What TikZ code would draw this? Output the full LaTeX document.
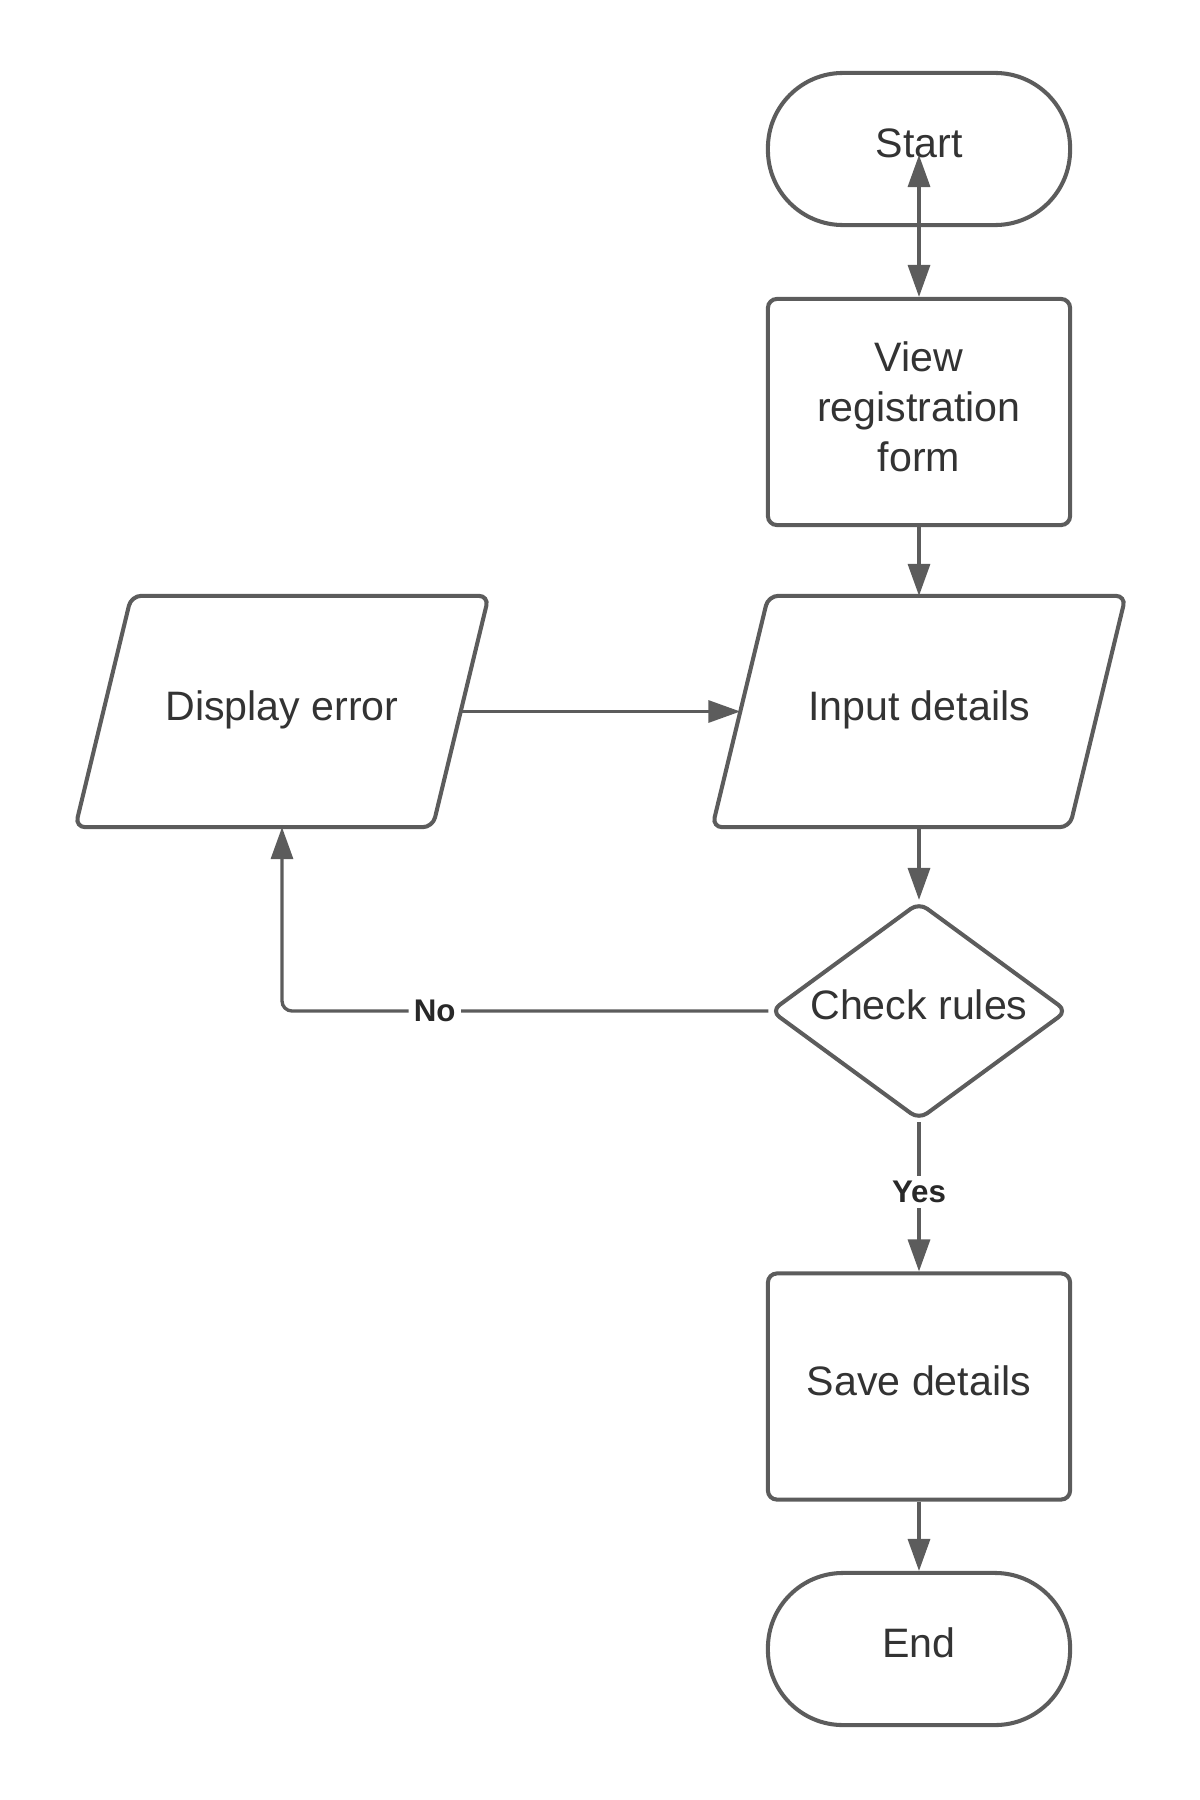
\documentclass[tikz,border=0pt]{standalone}
\usepackage{fontspec}
\setmainfont{Liberation Sans}
\usetikzlibrary{shapes.geometric,arrows.meta}
\definecolor{linegray}{RGB}{92,92,92}
\definecolor{textgray}{RGB}{51,51,51}
\definecolor{labelgray}{RGB}{40,40,40}
\begin{document}
\begin{tikzpicture}[x=0.01cm,y=-0.01cm,
  >={Triangle[length=0.32cm,width=0.22cm]},
  txt/.style={text=textgray, font=\fontsize{11.7pt}{14.2pt}\selectfont, align=center, inner sep=0pt},
  oneline/.style={text height=0.29cm, text depth=0.12cm},
  base/.style={txt, draw=linegray, line width=1.15pt},
  term/.style={base, oneline, rectangle, rounded corners=0.75cm, minimum width=3.02cm, minimum height=1.52cm},
  proc/.style={base, rectangle, rounded corners=0.09cm, minimum width=3.02cm, minimum height=2.26cm},
  iobox/.style={txt, oneline, rectangle, outer sep=0.6pt, minimum width=3.53cm, minimum height=2.27cm},
  ioline/.style={draw=linegray, line width=1.15pt, rounded corners=0.1cm},
  decision/.style={base, oneline, diamond, aspect=1.36, rounded corners=0.1cm, minimum width=2.97cm, minimum height=2.18cm},
  arr/.style={draw=linegray, line width=0.95pt, ->},
  lbl/.style={fill=white, text=labelgray, font=\bfseries\fontsize{8.9pt}{10pt}\selectfont, inner sep=1.5pt}
]
\useasboundingbox (0,0) rectangle (1200,1800);

\node[term] (start) at (919,149) {Start};
\node[proc, text depth=0.1cm] (view) at (919,412) {View\\registration\\form};
\node[iobox] (input) at (919,711.5) {Input details};
\node[iobox] (display) at (282,711.5) {Display error};
\node[decision] (check) at (919,1011) {Check rules};
\node[proc, oneline] (save) at (919,1386.5) {Save details};
\node[term] (finish) at (919,1649) {End};

\draw[ioline] ([xshift=0.28cm]input.north west) -- ([xshift=0.28cm]input.north east)
  -- ([xshift=-0.28cm]input.south east) -- ([xshift=-0.28cm]input.south west) -- cycle;
\draw[ioline] ([xshift=0.28cm]display.north west) -- ([xshift=0.28cm]display.north east)
  -- ([xshift=-0.28cm]display.south east) -- ([xshift=-0.28cm]display.south west) -- cycle;

\draw[arr, <->] ([yshift=-0.06cm]start.center) -- (view.north);
\draw[arr] (view.south) -- (input.north);
\draw[arr] (input.south) -- (check.north);
\draw[arr] (display.east) -- (input.west);
\draw[arr, rounded corners=0.1cm] (check.west) -| node[lbl, pos=0.343] {No} (display.south);
\draw[arr] (check.south) -- node[lbl, pos=0.47] {Yes} (save.north);
\draw[arr] (save.south) -- (finish.north);
\end{tikzpicture}
\end{document}
